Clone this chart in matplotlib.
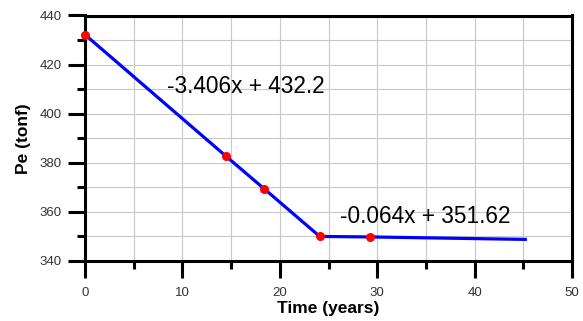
import matplotlib
matplotlib.use("Agg")
import matplotlib.pyplot as plt
from matplotlib.ticker import MultipleLocator

plt.rcParams['font.family'] = ['Liberation Sans', 'DejaVu Sans']

# Data
point_x = [0, 14.5, 18.4, 24.1, 29.3]
point_y = [432.2, 382.6, 369.4, 350.0, 349.8]
line_x = [0, 14.5, 18.4, 24.1, 29.3, 45.2]
line_y = [432.2, 382.6, 369.4, 350.0, 349.8, 348.8]
eq1 = "-3.406x + 432.2"
eq2 = "-0.064x + 351.62"
x_label = "Time (years)"
y_label = "Pe (tonf)"

fig = plt.figure(figsize=(5.83, 3.21), dpi=100)
ax = fig.add_axes([85/583, 1-261/321, (572-85)/583, (261-15.5)/321])

ax.plot(line_x, line_y, color='#0000ff', lw=2.3, zorder=3, clip_on=False)
ax.plot(point_x, point_y, 'o', color='#ff0000', ms=6.5, mec='none', zorder=4, clip_on=False)

ax.set_xlim(0, 50)
ax.set_ylim(340, 440)
ax.xaxis.set_major_locator(MultipleLocator(10))
ax.xaxis.set_minor_locator(MultipleLocator(5))
ax.yaxis.set_major_locator(MultipleLocator(20))
ax.yaxis.set_minor_locator(MultipleLocator(10))
ax.grid(True, which='both', color='#c8c8c8', lw=0.8, zorder=0)
ax.set_axisbelow(True)

for s in ax.spines.values():
    s.set_linewidth(2.2)
    s.set_color('black')

ax.tick_params(axis='both', which='major', direction='out', length=12, width=2.2,
               labelsize=9.5, labelcolor='#333333', color='black')
ax.tick_params(axis='both', which='minor', direction='out', length=6, width=2.2, color='black')
ax.tick_params(axis='x', which='major', pad=7)
ax.tick_params(axis='y', which='major', pad=5)

ax.set_xlabel(x_label, fontsize=12.5, fontweight='bold', labelpad=1)
ax.set_ylabel(y_label, fontsize=12.5, fontweight='bold', labelpad=6)

ax.text(8.4, 408.4, eq1, fontsize=16.3, va='baseline', ha='left', color='black', zorder=5)
ax.text(26.2, 355.6, eq2, fontsize=16.3, va='baseline', ha='left', color='black', zorder=5)

fig.savefig("out.png", dpi=100)
